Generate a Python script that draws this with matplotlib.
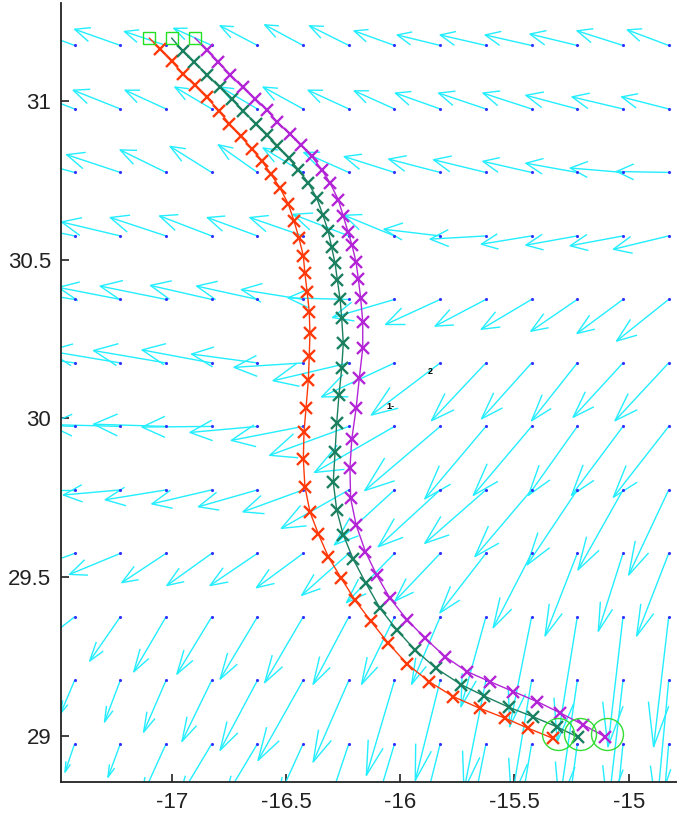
# wind field (quiver) with three drifting trajectories
import numpy as np
import matplotlib.pyplot as plt
from matplotlib.collections import LineCollection

# grid of wind vectors (tails), columns west -> east, rows north -> south
grid_lon = [-17.425, -17.225, -17.025, -16.825, -16.625, -16.425, -16.225,
            -16.025, -15.825, -15.625, -15.425, -15.225, -15.025, -14.825]
grid_lat = [31.175, 30.975, 30.775, 30.575, 30.375, 30.175,
            29.975, 29.775, 29.575, 29.375, 29.175, 28.975]

# displayed vector components (degrees), one row per latitude
wind_u = [
    [-0.201, -0.200, -0.182, -0.166, -0.163, -0.168, -0.172, -0.177, -0.188, -0.200, -0.203, -0.207, -0.201, -0.181],
    [-0.206, -0.206, -0.179, -0.161, -0.162, -0.175, -0.178, -0.176, -0.196, -0.207, -0.213, -0.225, -0.223, -0.206],
    [-0.241, -0.235, -0.201, -0.182, -0.171, -0.175, -0.197, -0.220, -0.225, -0.229, -0.213, -0.225, -0.231, -0.228],
    [-0.254, -0.257, -0.244, -0.228, -0.219, -0.233, -0.244, -0.220, -0.246, -0.244, -0.220, -0.225, -0.231, -0.242],
    [-0.271, -0.271, -0.288, -0.268, -0.266, -0.270, -0.266, -0.271, -0.239, -0.222, -0.220, -0.203, -0.201, -0.228],
    [-0.306, -0.315, -0.317, -0.305, -0.288, -0.302, -0.331, -0.319, -0.301, -0.238, -0.219, -0.200, -0.218, -0.235],
    [-0.306, -0.315, -0.317, -0.305, -0.295, -0.314, -0.346, -0.350, -0.330, -0.267, -0.255, -0.214, -0.225, -0.242],
    [-0.241, -0.249, -0.266, -0.262, -0.258, -0.263, -0.295, -0.263, -0.271, -0.267, -0.248, -0.219, -0.197, -0.175],
    [-0.219, -0.222, -0.193, -0.196, -0.207, -0.204, -0.206, -0.210, -0.198, -0.201, -0.168, -0.141, -0.108, -0.140],
    [-0.175, -0.134, -0.141, -0.152, -0.163, -0.168, -0.156, -0.144, -0.125, -0.109, -0.096, -0.088, -0.066, -0.066],
    [-0.061, -0.069, -0.098, -0.130, -0.163, -0.197, -0.156, -0.123, -0.109, -0.096, -0.088, -0.079, -0.066, -0.053],
    [-0.042, -0.054, -0.109, -0.144, -0.144, -0.109, -0.088, -0.079, -0.066, -0.053, -0.044, -0.035, -0.026, -0.022],
]
wind_v = [
    [0.054, 0.051, 0.044, 0.054, 0.062, 0.065, 0.062, 0.046, 0.033, 0.033, 0.033, 0.036, 0.046, 0.049],
    [0.057, 0.059, 0.059, 0.069, 0.069, 0.069, 0.059, 0.057, 0.050, 0.050, 0.050, 0.043, 0.038, 0.038],
    [0.047, 0.056, 0.071, 0.082, 0.087, 0.077, 0.063, 0.050, 0.042, 0.040, 0.035, 0.029, 0.014, 0.003],
    [0.038, 0.044, 0.058, 0.063, 0.058, 0.058, 0.068, 0.065, 0.021, -0.010, -0.026, -0.029, -0.031, -0.042],
    [0.031, 0.038, 0.042, 0.044, 0.042, 0.031, 0.005, -0.057, -0.079, -0.084, -0.094, -0.100, -0.107, -0.131],
    [0.031, 0.038, 0.039, 0.041, 0.028, -0.014, -0.056, -0.107, -0.164, -0.182, -0.176, -0.182, -0.171, -0.182],
    [0.009, 0.006, 0.007, -0.002, -0.019, -0.044, -0.091, -0.145, -0.202, -0.228, -0.217, -0.217, -0.217, -0.223],
    [0.000, -0.016, -0.031, -0.044, -0.053, -0.069, -0.121, -0.173, -0.179, -0.168, -0.210, -0.236, -0.252, -0.268],
    [-0.057, -0.066, -0.092, -0.101, -0.101, -0.108, -0.132, -0.155, -0.150, -0.187, -0.234, -0.260, -0.245, -0.260],
    [-0.098, -0.139, -0.173, -0.180, -0.196, -0.207, -0.212, -0.212, -0.212, -0.283, -0.346, -0.394, -0.409, -0.409],
    [-0.104, -0.131, -0.163, -0.192, -0.220, -0.252, -0.257, -0.299, -0.315, -0.346, -0.378, -0.394, -0.409, -0.409],
    [-0.089, -0.105, -0.173, -0.173, -0.173, -0.173, -0.189, -0.189, -0.189, -0.189, -0.189, -0.189, -0.189, -0.189],
]

# trajectories (first point = release position)
red_lon = [-17.098, -17.051, -17.000, -16.952, -16.898, -16.847, -16.793, -16.748, -16.698, -16.650,
           -16.606, -16.567, -16.526, -16.490, -16.465, -16.443, -16.424, -16.417, -16.407, -16.398,
           -16.395, -16.398, -16.402, -16.412, -16.421, -16.424, -16.417, -16.395, -16.358, -16.315,
           -16.260, -16.198, -16.129, -16.052, -15.969, -15.873, -15.768, -15.651, -15.541, -15.439,
           -15.333]
red_lat = [31.198, 31.165, 31.125, 31.086, 31.049, 31.012, 30.969, 30.928, 30.889, 30.850,
           30.812, 30.771, 30.726, 30.676, 30.623, 30.568, 30.512, 30.457, 30.397, 30.336,
           30.268, 30.197, 30.121, 30.034, 29.958, 29.872, 29.785, 29.706, 29.636, 29.565,
           29.499, 29.428, 29.362, 29.292, 29.226, 29.171, 29.124, 29.087, 29.056, 29.024,
           28.993]

green_lon = [-17.000, -16.952, -16.901, -16.847, -16.789, -16.737, -16.687, -16.632, -16.582, -16.538,
             -16.487, -16.446, -16.402, -16.365, -16.339, -16.315, -16.300, -16.285, -16.275, -16.263,
             -16.256, -16.249, -16.256, -16.268, -16.278, -16.285, -16.293, -16.278, -16.249, -16.205,
             -16.150, -16.088, -16.015, -15.935, -15.843, -15.734, -15.633, -15.523, -15.420, -15.315,
             -15.221]
green_lat = [31.198, 31.158, 31.122, 31.083, 31.043, 31.006, 30.968, 30.929, 30.894, 30.859,
             30.820, 30.784, 30.742, 30.694, 30.642, 30.590, 30.539, 30.489, 30.436, 30.375,
             30.316, 30.237, 30.158, 30.074, 29.985, 29.895, 29.801, 29.712, 29.633, 29.556,
             29.481, 29.402, 29.334, 29.271, 29.213, 29.162, 29.126, 29.090, 29.061, 29.029,
             28.996]

purple_lon = [-16.898, -16.847, -16.796, -16.745, -16.689, -16.635, -16.584, -16.538, -16.482, -16.434,
              -16.387, -16.344, -16.307, -16.271, -16.249, -16.228, -16.211, -16.193, -16.183, -16.173,
              -16.164, -16.164, -16.179, -16.193, -16.212, -16.220, -16.217, -16.193, -16.152, -16.103,
              -16.045, -15.969, -15.891, -15.804, -15.708, -15.607, -15.505, -15.400, -15.301, -15.199,
              -15.104]
purple_lat = [31.198, 31.162, 31.123, 31.083, 31.043, 31.007, 30.973, 30.933, 30.896, 30.862,
              30.826, 30.784, 30.742, 30.689, 30.637, 30.587, 30.546, 30.492, 30.438, 30.379,
              30.305, 30.221, 30.127, 30.032, 29.934, 29.843, 29.749, 29.665, 29.580, 29.507,
              29.434, 29.365, 29.308, 29.250, 29.203, 29.171, 29.140, 29.108, 29.073, 29.035,
              28.998]

start_lon = [-17.1, -17.0, -16.9]
start_lat = [31.2, 31.2, 31.2]
end_lon = [-15.31, -15.215, -15.097]
end_lat = [29.005, 29.005, 29.005]

xticks = [-17, -16.5, -16, -15.5, -15]
xtick_labels = ['-17', '-16.5', '-16', '-15.5', '-15']
yticks = [29, 29.5, 30, 30.5, 31]
ytick_labels = ['29', '29.5', '30', '30.5', '31']

plt.rcParams['font.family'] = ['Liberation Sans', 'DejaVu Sans']

fig = plt.figure(figsize=(6.77, 8.16), dpi=100)
ax = fig.add_axes([61 / 677, 34 / 816, 616 / 677, 779 / 816])

# matlab style arrows: shaft plus two head lines, built in data units
X, Y = np.meshgrid(grid_lon, grid_lat)
U = np.array(wind_u)
V = np.array(wind_v)
alpha, beta = 0.33, 0.33
tx, ty = X + U, Y + V
segs = []
for x0, y0, x1, y1, u, v in zip(X.ravel(), Y.ravel(), tx.ravel(), ty.ravel(), U.ravel(), V.ravel()):
    segs.append([(x0, y0), (x1, y1)])
    segs.append([(x1 - alpha * (u + beta * v), y1 - alpha * (v - beta * u)), (x1, y1),
                 (x1 - alpha * (u - beta * v), y1 - alpha * (v + beta * u))])
ax.add_collection(LineCollection(segs, colors='#22eeff', linewidths=1.0))
ax.plot(X.ravel(), Y.ravel(), '.', color='#3333ff', markersize=2.5)

for lon, lat, c in [(red_lon, red_lat, '#ff3a0a'),
                    (green_lon, green_lat, '#1b8060'),
                    (purple_lon, purple_lat, '#b324d6')]:
    ax.plot(lon, lat, '-', color=c, linewidth=1.0)
    ax.plot(lon[1:], lat[1:], 'x', color=c, markersize=9, markeredgewidth=1.7)

ax.plot(start_lon, start_lat, 's', mfc='none', mec='#22e022', markersize=8.5, markeredgewidth=1.0)
ax.plot(end_lon, end_lat, 'o', mfc='none', mec='#33dd33', markersize=23, markeredgewidth=1.0)

# two tiny labels near the vortex
ax.text(-15.867, 30.147, '2', fontsize=6.5, color='black', fontweight='bold', ha='center', va='center')
ax.text(-16.044, 30.038, '1-', fontsize=6.5, color='black', fontweight='bold', ha='center', va='center')

ax.set_xlim(-17.4845, -14.7886)
ax.set_ylim(28.855, 31.3087)
ax.set_xticks(xticks)
ax.set_xticklabels(xtick_labels)
ax.set_yticks(yticks)
ax.set_yticklabels(ytick_labels)
ax.tick_params(direction='in', length=6, width=1.2, labelsize=16, colors='#222222', pad=7)
ax.spines['top'].set_visible(False)
ax.spines['right'].set_visible(False)
for s in ['left', 'bottom']:
    ax.spines[s].set_color('#222222')
    ax.spines[s].set_linewidth(1.3)

fig.savefig('out.png', dpi=100)
